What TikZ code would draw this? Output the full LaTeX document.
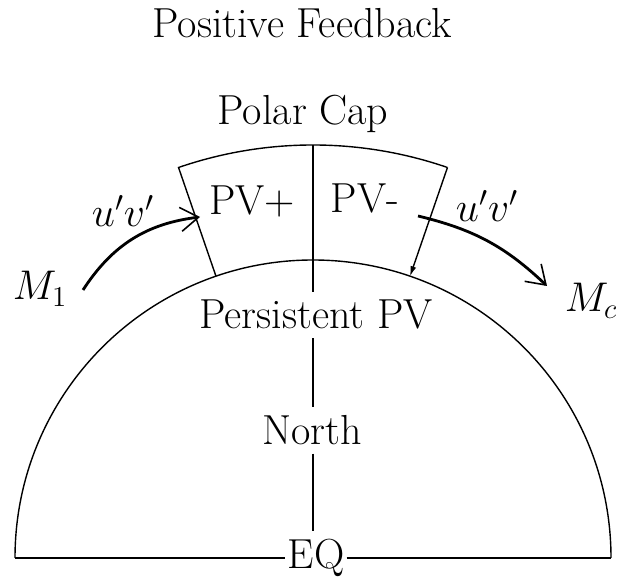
\documentclass[tikz,border=0pt]{standalone}
\usepackage{amsmath}
\usepackage{tikz}
\usetikzlibrary{arrows.meta,positioning,calc}

\begin{document}
\begin{tikzpicture}[
  x=0.5pt,y=0.5pt,
  lbl/.style={font=\fontsize{21}{25}\selectfont,inner sep=2pt},
  gaplbl/.style={lbl,fill=white,inner xsep=1pt,inner ysep=4pt},
  outline/.style={line width=0.7pt},
  flux/.style={-{Straight Barb[length=9pt,width=12pt,line width=0.8pt]},line width=1.4pt}
]
\useasboundingbox (0,0) rectangle (631,582);
% earth and polar cap
\coordinate (C) at (313,24);
\coordinate (eqL) at (15,24);
\coordinate (eqR) at (611,24);
\coordinate (top) at ([shift={(C)}]90:413);
\coordinate (capLo) at ([shift={(C)}]109:413);
\coordinate (capLi) at ([shift={(C)}]109:298);
\coordinate (capRo) at ([shift={(C)}]71:413);
\coordinate (capRi) at ([shift={(C)}]71:298);

\node[lbl,anchor=base] (title) at (302,544) {Positive Feedback};
\node[lbl,anchor=base] (polar) at (303,457) {Polar Cap};
\node[lbl,anchor=base] (pvplus) at (252,367) {PV+};
\node[lbl,anchor=base] (pvminus) at (365,369) {PV-};
\node[lbl,anchor=base] (fluxL) at (123,355) {$u'v'$};
\node[lbl,anchor=base] (fluxR) at (487,360) {$u'v'$};
\node[lbl,anchor=base] (m1) at (40,282) {$M_1$};
\node[lbl,anchor=base] (mc) at (591,270) {$M_c$};
\node[gaplbl,anchor=base] (persist) at (316,253) {Persistent PV};
\node[gaplbl,anchor=base] (north) at (312,137) {North};
\node[gaplbl,anchor=base] (eq) at (316,13) {EQ};

\draw[outline] (eqL) arc[start angle=180,end angle=0,radius=298];
\draw[outline] (eqL) -- (eqL -| eq.west);
\draw[outline] (eqR -| eq.east) -- (eqR);
\draw[outline] (capLi) -- (capLo) arc[start angle=109,end angle=71,radius=413];
\draw[outline,-{Latex[length=5pt,width=3pt]}] (capRo) -- (capRi);
\draw[outline] (top) -- (top |- persist.north);
\draw[outline] (top |- persist.south) -- (top |- north.north);
\draw[outline] (top |- north.south) -- (top |- eq.north);

% eddy momentum fluxes
\coordinate (fromM1) at (83,292);
\coordinate (intoCap) at (200,365);
\coordinate (outCap) at (418,366);
\coordinate (toMc) at (547,296);
\draw[flux] (fromM1) to[bend left=25] (intoCap);
\draw[flux] (outCap) to[bend left=15] (toMc);
\end{tikzpicture}
\end{document}
